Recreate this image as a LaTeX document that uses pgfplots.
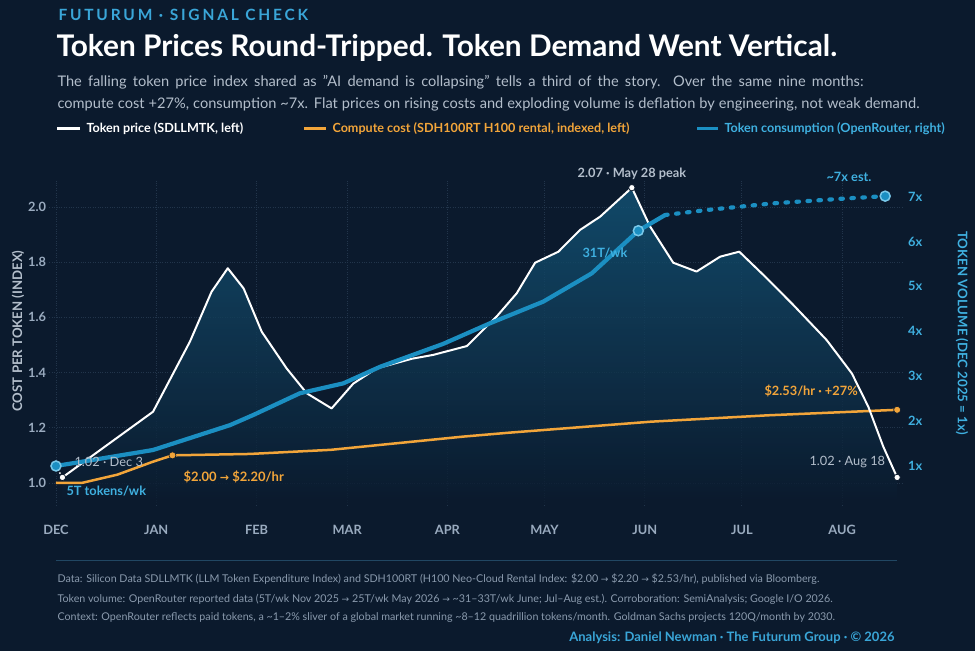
\documentclass[border=0pt]{standalone}
\usepackage{pgfplots}
\pgfplotsset{compat=1.18}
\usepackage{fontspec}
\setmainfont{Lato}
\newfontfamily\sym{DejaVu Sans}
\definecolor{bg}{HTML}{0B1A2D}
\definecolor{cyanT}{HTML}{3AA6D8}
\definecolor{blueL}{HTML}{1B8FC2}
\definecolor{blueT}{HTML}{3FB0E0}
\definecolor{orangeL}{HTML}{F2A53A}
\definecolor{grayT}{HTML}{B3BECB}
\definecolor{grayF}{HTML}{8A9AAD}
\definecolor{tickG}{HTML}{9AABBF}
\definecolor{gridC}{HTML}{22354B}
\newcommand{\ar}{{\sym\fontsize{0.85em}{1em}\selectfont →}}
\pgfplotstableread{
d v
2 1.02
30 1.258
41.4 1.512
48.1 1.693
53.1 1.778
58.0 1.705
63.6 1.548
71.3 1.415
77.5 1.325
85.2 1.27
91.9 1.36
99.1 1.415
110 1.45
116.6 1.464
127 1.496
136.2 1.603
142.4 1.687
148.1 1.798
155.3 1.838
162 1.917
168.2 1.965
178 2.07
183.6 1.93
190.8 1.798
198 1.766
205.3 1.82
211.2 1.838
219.7 1.742
227.9 1.645
238.2 1.518
246 1.397
251.1 1.276
255.7 1.132
260 1.02
}\price
\pgfplotstableread{
d v
2 0.92
2 1.02
30 1.258
41.4 1.512
48.1 1.693
53.1 1.778
58.0 1.705
63.6 1.548
71.3 1.415
77.5 1.325
85.2 1.27
91.9 1.36
99.1 1.415
110 1.45
116.6 1.464
127 1.496
136.2 1.603
142.4 1.687
148.1 1.798
155.3 1.838
162 1.917
168.2 1.965
178 2.07
183.6 1.93
190.8 1.798
198 1.766
205.3 1.82
211.2 1.838
219.7 1.742
227.9 1.645
238.2 1.518
246 1.397
251.1 1.276
255.7 1.132
260 1.02
260 0.92
}\pricefill
\pgfplotstableread{
d v
0 1.0
8 1.0
19 1.03
30 1.077
36 1.10
60 1.105
85 1.12
126 1.168
140 1.182
184 1.222
220 1.245
260 1.265
}\compute
\pgfplotstableread{
d r
0 1.0
30 1.356
53.8 1.91
61 2.136
75.4 2.62
88.8 2.84
100.2 3.21
119.7 3.72
134.2 4.18
150.6 4.66
165.6 5.29
180 6.24
188.3 6.59
}\volume
\pgfplotstableread{
d r
188.3 6.59
201 6.70
221.7 6.85
242.3 6.95
256.3 7.01
}\volest
\begin{document}
\begin{tikzpicture}[x=1pt,y=1pt]
\fill[bg] (0,0) rectangle (975,651);
% header
\node[anchor=west,text=cyanT,font=\fontsize{15.5}{17}\selectfont\bfseries\addfontfeatures{LetterSpace=18}] at (55,636) {FUTURUM · SIGNAL CHECK};
\node[anchor=west,text=white,font=\fontsize{29.8}{32}\selectfont\bfseries] at (53,603) {Token Prices Round-Tripped. Token Demand Went Vertical.};
\node[anchor=west,text=grayT,font=\fontsize{14.6}{17}\selectfont] at (54,569) {\makebox[806pt][s]{The falling token price index shared as "AI demand is collapsing" tells a third of the story. Over the same nine months:}};
\node[anchor=west,text=grayT,font=\fontsize{14.6}{17}\selectfont] at (54,546.5) {\makebox[862pt][s]{compute cost +27\%, consumption \textasciitilde 7x. Flat prices on rising costs and exploding volume is deflation by engineering, not weak demand.}};
% legend
\draw[white,line width=3pt] (57,522) -- (80,522);
\node[anchor=west,text=white,font=\fontsize{12.6}{14}\selectfont\bfseries] at (83,522) {Token price (SDLLMTK, left)};
\draw[orangeL,line width=3pt] (304,522) -- (326,522);
\node[anchor=west,text=orangeL,font=\fontsize{12.6}{14}\selectfont\bfseries] at (329,522) {Compute cost (SDH100RT H100 rental, indexed, left)};
\draw[blueL,line width=3pt] (697,522) -- (718,522);
\node[anchor=west,text=blueT,font=\fontsize{12.6}{14}\selectfont\bfseries] at (721,522) {Token consumption (OpenRouter, right)};
% axis labels
\node[rotate=90,text=grayT,font=\fontsize{13.2}{15}\selectfont\bfseries] at (18,320) {COST PER TOKEN (INDEX)};
\node[rotate=-90,text=blueT,font=\fontsize{13.2}{15}\selectfont\bfseries] at (962,318) {TOKEN VOLUME (DEC 2025 = 1x)};
% left axis
\begin{axis}[
  at={(49.5pt,146pt)}, anchor=south west, scale only axis,
  width=854.1pt, height=325.6pt,
  xmin=-2, xmax=262, ymin=0.92, ymax=2.1,
  axis line style={draw=none}, tick style={draw=none},
  xtick={0,31,62,90,121,151,182,212,243},
  xticklabels={DEC,JAN,FEB,MAR,APR,MAY,JUN,JUL,AUG},
  ytick={1.0,1.2,1.4,1.6,1.8,2.0},
  yticklabels={1.0,1.2,1.4,1.6,1.8,2.0},
  /pgf/number format/assume math mode=true,
  xmajorgrids, ymajorgrids,
  grid style={gridC, dotted, line width=0.8pt},
  xticklabel style={text=tickG, font=\fontsize{12.8}{14}\selectfont\bfseries, yshift=-17pt},
  yticklabel style={text=tickG, font=\fontsize{12.8}{14}\selectfont\bfseries},
  clip=false,
]
\addplot[draw=none, top color=blueL!50!bg, bottom color=bg, fill opacity=0.8] table[x=d,y=v] {\pricefill} -- cycle;
\addplot[orangeL, line width=2.5pt, line join=round] table[x=d,y=v] {\compute};
\addplot[white, line width=2pt, line join=round] table[x=d,y=v] {\price};
\addplot[white, line width=1.5pt, dotted] coordinates {(0,1.06) (2,1.02)};
\addplot[only marks, mark=*, mark size=3.2pt, mark options={fill=white, draw=bg, line width=0.8pt}] coordinates {(2,1.02) (178,2.07) (260,1.02)};
\addplot[only marks, mark=*, mark size=3.5pt, mark options={fill=orangeL, draw=bg, line width=0.6pt}] coordinates {(36,1.10) (260,1.265)};
\end{axis}
% right axis
\begin{axis}[
  at={(49.5pt,146pt)}, anchor=south west, scale only axis,
  width=854.1pt, height=325.6pt,
  xmin=-2, xmax=262, ymin=0.131, ymax=7.383,
  axis x line=none, axis y line*=right,
  axis line style={draw=none}, tick style={draw=none},
  ytick={1,2,3,4,5,6,7},
  yticklabels={1x,2x,3x,4x,5x,6x,7x},
  yticklabel style={text=blueT, font=\fontsize{12.8}{14}\selectfont\bfseries, xshift=1pt},
  clip=false,
]
\addplot[blueL, line width=4.2pt, line join=round, line cap=round] table[x=d,y=r] {\volume};
\addplot[blueL, line width=4.2pt, line cap=round, dash pattern=on 2.5pt off 8.5pt] table[x=d,y=r] {\volest};
\addplot[only marks, mark=*, mark size=5pt, mark options={fill=blueL, draw=blueT!70!white, line width=1.5pt}] coordinates {(0,1.0) (180,6.24) (256.3,7.01)};
\end{axis}
% annotations
\node[anchor=west,text=grayT,font=\fontsize{12.8}{14}\selectfont] at (71,189) {1.02 · Dec 3};
\node[anchor=west,text=blueT,font=\fontsize{12.8}{14}\selectfont\bfseries] at (63,160) {5T tokens/wk};
\node[anchor=west,text=orangeL,font=\fontsize{13}{14}\selectfont\bfseries] at (180,174) {\$2.00 \ar{} \$2.20/hr};
\node[text=grayT,font=\fontsize{12.8}{14}\selectfont\bfseries] at (632,477) {2.07 · May 28 peak};
\node[anchor=west,text=blueT,font=\fontsize{12.8}{14}\selectfont\bfseries] at (579,398) {31T/wk};
\node[anchor=west,text=blueT,font=\fontsize{12.8}{14}\selectfont\bfseries] at (823,474) {\textasciitilde 7x est.};
\node[anchor=west,text=orangeL,font=\fontsize{12.8}{14}\selectfont\bfseries] at (761,260) {\$2.53/hr · +27\%};
\node[anchor=west,text=grayT,font=\fontsize{12.8}{14}\selectfont] at (806,189) {1.02 · Aug 18};
% footer
\draw[gridC!80!blueL, line width=1pt] (56,90) -- (897,90);
\node[anchor=west,text=grayF,font=\fontsize{10.7}{12}\selectfont] at (54,72) {Data: Silicon Data SDLLMTK (LLM Token Expenditure Index) and SDH100RT (H100 Neo-Cloud Rental Index: \$2.00 \ar{} \$2.20 \ar{} \$2.53/hr), published via Bloomberg.};
\node[anchor=west,text=grayF,font=\fontsize{10.7}{12}\selectfont] at (54,52) {Token volume: OpenRouter reported data (5T/wk Nov 2025 \ar{} 25T/wk May 2026 \ar{} \textasciitilde 31–33T/wk June; Jul–Aug est.). Corroboration: SemiAnalysis; Google I/O 2026.};
\node[anchor=west,text=grayF,font=\fontsize{10.7}{12}\selectfont] at (54,33) {Context: OpenRouter reflects paid tokens, a \textasciitilde 1–2\% sliver of a global market running \textasciitilde 8–12 quadrillion tokens/month. Goldman Sachs projects 120Q/month by 2030.};
\node[anchor=east,text=cyanT,font=\fontsize{13}{15}\selectfont\bfseries] at (898,13) {Analysis: Daniel Newman · The Futurum Group · © 2026};
\pgfresetboundingbox
\useasboundingbox (0,0) rectangle (975,651);
\end{tikzpicture}
\end{document}
